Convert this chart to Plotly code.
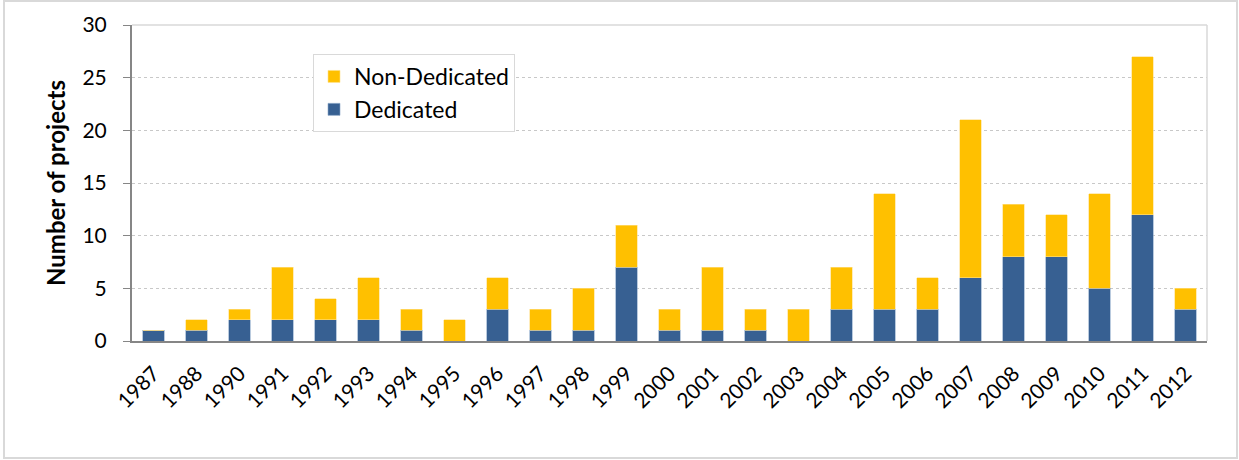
import plotly.graph_objects as go

years = ["1987", "1988", "1990", "1991", "1992", "1993", "1994", "1995", "1996", "1997",
         "1998", "1999", "2000", "2001", "2002", "2003", "2004", "2005", "2006", "2007",
         "2008", "2009", "2010", "2011", "2012"]
dedicated = [1, 1, 2, 2, 2, 2, 1, 0, 3, 1, 1, 7, 1, 1, 1, 0, 3, 3, 3, 6, 8, 8, 5, 12, 3]
non_dedicated = [0, 1, 1, 5, 2, 4, 2, 2, 3, 2, 4, 4, 2, 6, 2, 3, 4, 11, 3, 15, 5, 4, 9, 15, 2]

FONT = "Lato, 'Open Sans', sans-serif"

fig = go.Figure()
fig.add_trace(go.Bar(x=years, y=dedicated, name="Dedicated",
                     marker=dict(color="#376092", line=dict(color="#8aa6c8", width=0.6))))
fig.add_trace(go.Bar(x=years, y=non_dedicated, name="Non-Dedicated",
                     marker=dict(color="#FFC000", line=dict(color="#ffe08a", width=0.6))))

W, H = 1239, 460
L, R, T, B = 132, 32, 25, 119
pw, ph = W - L - R, H - T - B

def px(x):
    return (x - L) / pw

def py(y):
    return (H - B - y) / ph

fig.update_layout(
    width=W, height=H,
    barmode="stack",
    bargap=0.5,
    margin=dict(l=L, r=R, t=T, b=B),
    plot_bgcolor="white",
    paper_bgcolor="white",
    font=dict(family=FONT, size=21, color="#000000"),
    showlegend=True,
    legend=dict(
        x=px(313), y=py(54), xanchor="left", yanchor="top",
        traceorder="reversed",
        bordercolor="#d9d9d9", borderwidth=1,
        bgcolor="white",
        font=dict(family=FONT, size=23),
        itemwidth=30,
    ),
    xaxis=dict(
        type="category",
        tickangle=-45,
        showgrid=False,
        showline=True, linecolor="#868686", linewidth=2,
        ticks="",
        ticklabelstandoff=10,
        tickfont=dict(family=FONT, size=21),
    ),
    yaxis=dict(
        range=[0, 30],
        tickvals=[0, 5, 10, 15, 20, 25, 30],
        showgrid=True, gridcolor="#c8c8c8", griddash="dot", gridwidth=1,
        showline=True, linecolor="#868686", linewidth=2,
        ticks="outside", ticklen=7, tickcolor="#868686",
        ticklabelstandoff=12,
        zeroline=False,
        tickfont=dict(family=FONT, size=21),
        title=dict(text="<b>Number of projects</b>", font=dict(family=FONT, size=24), standoff=10),
    ),
    shapes=[
        # outer chart border
        dict(type="rect", xref="paper", yref="paper",
             x0=px(4), x1=px(1237), y0=py(458), y1=py(1),
             line=dict(color="#d9d9d9", width=2), fillcolor="rgba(0,0,0,0)", layer="below"),
        # plot area border (top and right)
        dict(type="line", xref="paper", yref="paper", x0=0, x1=1, y0=1, y1=1,
             line=dict(color="#d9d9d9", width=1.5)),
        dict(type="line", xref="paper", yref="paper", x0=1, x1=1, y0=0, y1=1,
             line=dict(color="#d9d9d9", width=1.5)),
    ],
)

fig.write_html("out.html", config={"displayModeBar": False},
               post_script="document.body.style.margin='0';")
